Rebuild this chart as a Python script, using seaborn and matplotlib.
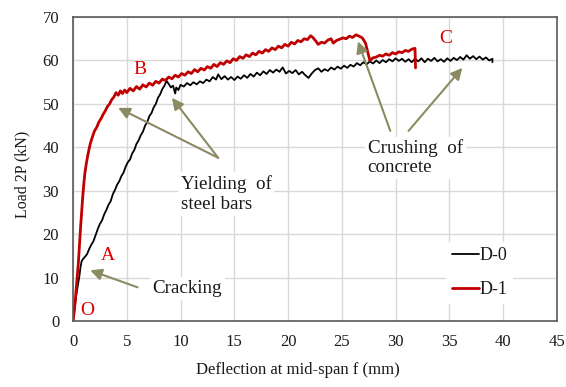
import pandas as pd
import seaborn as sns
from matplotlib import pyplot as plt

# D-0 (reference beam)
d0_x = [0, 0.1, 0.2, 0.3, 0.4, 0.5, 0.6, 0.7, 0.8, 0.9, 1.1, 1.3, 1.5, 1.7, 1.9, 2.1, 2.3, 2.5, 2.7, 2.9,
        3.1, 3.3, 3.5, 3.7, 3.9, 4.1, 4.3, 4.5, 4.7, 4.9, 5.1, 5.3, 5.5, 5.7, 5.9, 6.1, 6.3, 6.5, 6.7, 6.9,
        7.1, 7.3, 7.5, 7.7, 7.9, 8.1, 8.3, 8.5, 8.7, 8.9, 9.1, 9.3, 9.5, 9.6, 9.8, 10.0,
        10.3, 10.6, 10.9, 11.2, 11.5, 11.8, 12.1, 12.4, 12.7, 13.0, 13.3, 13.5, 13.8, 14.1, 14.4, 14.7,
        15.0, 15.3, 15.6, 15.9, 16.2, 16.5, 16.8, 17.1, 17.4, 17.7, 18.0, 18.3, 18.6, 18.9, 19.2, 19.5,
        19.8, 20.1, 20.4, 20.7, 21.0, 21.3, 21.6, 21.9, 22.2, 22.5, 22.8, 23.1, 23.4, 23.7, 24.0, 24.3,
        24.6, 24.9, 25.2, 25.5, 25.8, 26.1, 26.4, 26.7, 27.0, 27.3, 27.6, 27.9, 28.2, 28.5, 28.8, 29.1,
        29.4, 29.7, 30.0, 30.3, 30.6, 30.9, 31.2, 31.5, 31.8, 32.1, 32.4, 32.7, 33.0, 33.3, 33.6, 33.9,
        34.2, 34.5, 34.8, 35.1, 35.4, 35.7, 36.0, 36.3, 36.6, 36.9, 37.2, 37.5, 37.8, 38.1, 38.4, 38.7,
        39.0, 39.0]
d0_y = [0, 2, 4, 6, 7.5, 9, 10.5, 12.5, 13.8, 14.2, 14.8, 15.4, 16.6, 17.6, 18.4, 19.8, 21.2, 22.4, 23.2, 24.6,
        25.6, 26.8, 27.6, 29.2, 30.2, 31.4, 32.2, 33.4, 34.2, 35.6, 36.6, 37.2, 38.6, 39.4, 40.8, 41.6, 42.8, 43.6, 45.0, 45.8,
        47.2, 47.9, 49.2, 50.0, 51.4, 52.2, 53.4, 54.2, 55.3, 54.6, 53.8, 54.2, 52.4, 53.8, 53.2, 54.4,
        54.0, 54.8, 54.3, 55.0, 54.5, 55.2, 54.8, 55.6, 55.2, 56.2, 55.6, 56.8, 55.7, 56.4, 55.6, 56.2,
        55.5, 56.3, 55.8, 56.6, 56.0, 56.9, 56.3, 57.2, 56.6, 57.5, 56.9, 57.8, 57.2, 57.9, 57.4, 58.4,
        57.0, 57.6, 57.1, 57.8, 56.8, 57.4, 56.6, 56.0, 57.0, 57.8, 58.2, 57.4, 58.0, 57.6, 58.4, 57.9,
        58.6, 58.1, 58.8, 58.3, 59.0, 58.6, 59.4, 58.9, 59.6, 59.1, 59.8, 59.3, 60.0, 59.4, 60.1, 59.6,
        60.3, 59.8, 60.5, 59.9, 60.4, 59.7, 60.3, 59.6, 60.4, 59.8, 60.5, 59.6, 60.4, 59.9, 60.6, 59.8,
        60.3, 59.7, 60.5, 59.9, 60.6, 60.1, 60.8, 60.2, 61.2, 60.4, 61.0, 60.3, 60.9, 60.2, 60.7, 60.0,
        60.4, 59.6]

# D-1 (strengthened beam)
d1_x = [0, 0.1, 0.2, 0.3, 0.4, 0.5, 0.6, 0.7, 0.8, 0.9, 1.0, 1.1, 1.25, 1.4, 1.6, 1.8, 2.0, 2.2, 2.4, 2.6,
        2.8, 3.0, 3.2, 3.4, 3.6, 3.8, 4.0, 4.2, 4.4, 4.6, 4.8, 5.0, 5.3, 5.6, 5.9, 6.2, 6.5, 6.8, 7.1, 7.4,
        7.7, 8.0, 8.3, 8.6, 8.9, 9.2, 9.5, 9.8, 10.1, 10.4, 10.7, 11.0, 11.3, 11.6, 11.9, 12.2, 12.5, 12.8,
        13.1, 13.4, 13.7, 14.0, 14.3, 14.6, 14.9, 15.2, 15.5, 15.8, 16.1, 16.4, 16.7, 17.0, 17.3, 17.6,
        17.9, 18.2, 18.5, 18.8, 19.1, 19.4, 19.7, 20.0, 20.3, 20.6, 20.9, 21.2, 21.5, 21.8, 22.1, 22.3,
        22.6, 22.8, 23.1, 23.4, 23.7, 24.0, 24.2, 24.5, 24.8, 25.1, 25.4, 25.7, 26.0, 26.3, 26.6, 26.9,
        27.2, 27.4, 27.6, 27.9, 28.2, 28.5, 28.8, 29.1, 29.4, 29.7, 30.0, 30.3, 30.6, 30.9, 31.2, 31.5,
        31.8, 31.85]
d1_y = [0, 2, 4.5, 7.5, 10.5, 13.5, 17.5, 21.5, 25, 28.5, 31.5, 34, 36.5, 38.5, 40.8, 42.4, 43.8, 44.6, 45.8, 46.6,
        47.6, 48.4, 49.4, 50.0, 51.0, 51.6, 52.6, 52.0, 53.0, 52.4, 53.2, 52.6, 53.6, 53.0, 54.0, 53.4, 54.4, 53.9, 54.8, 54.3,
        55.2, 54.8, 55.7, 55.4, 56.2, 55.8, 56.6, 56.2, 57.0, 56.6, 57.4, 57.0, 57.9, 57.4, 58.2, 57.8, 58.6, 58.2,
        59.1, 58.6, 59.5, 59.1, 59.9, 59.5, 60.4, 60.0, 60.9, 60.5, 61.3, 60.9, 61.7, 61.3, 62.1, 61.7,
        62.5, 62.1, 62.9, 62.5, 63.3, 62.9, 63.7, 63.3, 64.2, 63.8, 64.6, 64.3, 65.0, 64.8, 65.7, 65.3,
        64.4, 63.7, 64.2, 64.0, 64.7, 65.0, 64.0, 64.6, 64.9, 65.2, 65.0, 65.6, 65.3, 65.9, 65.6, 65.2,
        64.0, 62.0, 60.0, 60.6, 60.8, 61.2, 61.0, 61.5, 61.2, 61.8, 61.5, 62.0, 61.8, 62.3, 62.1, 62.6,
        62.8, 58.3]

x_ticks = [0, 5, 10, 15, 20, 25, 30, 35, 40, 45]
y_ticks = [0, 10, 20, 30, 40, 50, 60, 70]

sns.set_theme(style="whitegrid")
plt.rcParams['font.family'] = ['Liberation Serif', 'DejaVu Serif']

RED = '#c00000'
ARROW = '#8c8a62'
INK = '#1a1a1a'

fig = plt.figure(figsize=(5.66, 3.87), dpi=100)
ax = fig.add_axes([0.129, 0.17, 0.855, 0.786])

df0 = pd.DataFrame({'x': d0_x, 'y': d0_y})
df1 = pd.DataFrame({'x': d1_x, 'y': d1_y})
sns.lineplot(data=df0, x='x', y='y', ax=ax, sort=False, estimator=None, color='black', lw=1.3, label='D-0')
sns.lineplot(data=df1, x='x', y='y', ax=ax, sort=False, estimator=None, color=RED, lw=2.0, label='D-1')

ax.set_xlim(0, 45)
ax.set_ylim(0, 70)
ax.set_xticks(x_ticks)
ax.set_yticks(y_ticks)
ax.grid(True, color='#d9d9d9', lw=1)
ax.set_facecolor('white')
for s in ax.spines.values():
    s.set_color('#595959')
    s.set_linewidth(1.2)
ax.tick_params(axis='both', labelsize=12, length=0, colors=INK)
ax.tick_params(axis='y', pad=10)
ax.tick_params(axis='x', pad=9)

ax.set_xlabel('Deflection at mid-span f (mm)', fontsize=12, labelpad=9, x=0.465, color=INK)
ax.set_ylabel('Load 2P (kN)', fontsize=11.5, labelpad=9, y=0.484, color=INK)

# point labels
lbl = dict(color='#e00000', fontsize=14, ha='center', va='center')
ax.text(1.3, 2.5, 'O', **lbl)
ax.text(3.2, 15.1, 'A', **lbl)
ax.text(6.2, 58.0, 'B', **lbl)
ax.text(34.7, 65.1, 'C', **lbl)

box = dict(facecolor='white', edgecolor='none', pad=2)
arr = dict(arrowstyle='-|>', color=ARROW, lw=1.5, mutation_scale=17, shrinkA=0, shrinkB=0)

ax.text(10.0, 29.3, 'Yielding  of\nsteel bars', fontsize=13.7, ha='left', va='center', bbox=box,
        linespacing=1.25, color=INK)
ax.annotate('', xy=(4.2, 49.1), xytext=(13.5, 37.6), arrowprops=arr)
ax.annotate('', xy=(9.2, 51.4), xytext=(13.5, 37.6), arrowprops=arr)

ax.text(27.4, 37.6, 'Crushing  of\nconcrete', fontsize=13.7, ha='left', va='center', bbox=box,
        linespacing=1.15, color=INK)
ax.annotate('', xy=(26.5, 64.4), xytext=(29.5, 43.8), arrowprops=arr)
ax.annotate('', xy=(36.2, 58.3), xytext=(31.2, 43.8), arrowprops=arr)

ax.text(7.4, 7.6, 'Cracking', fontsize=13.7, ha='left', va='center', bbox=box, color=INK)
ax.annotate('', xy=(1.6, 11.7), xytext=(6.0, 7.8), arrowprops=arr)

leg = ax.legend(loc='center', bbox_to_anchor=(0.84, 0.16), frameon=True, fontsize=13,
                handlelength=1.5, handletextpad=0.05, labelspacing=0.95, borderpad=0.3)
leg.get_frame().set_facecolor('white')
leg.get_frame().set_edgecolor('none')
leg.get_frame().set_alpha(1)
for t in leg.get_texts():
    t.set_color(INK)

fig.savefig('out.png', dpi=100, facecolor='white')
